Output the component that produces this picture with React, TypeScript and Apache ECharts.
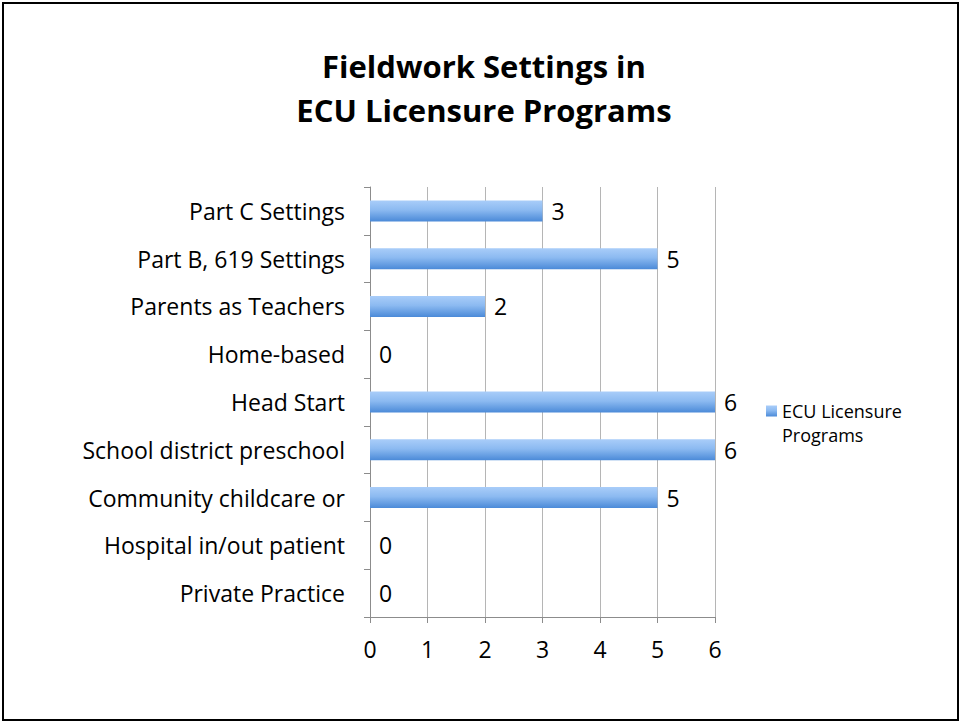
import React, { useEffect, useRef } from "react";
import * as echarts from "echarts";

const categories = [
  "Part C Settings",
  "Part B, 619 Settings",
  "Parents as Teachers",
  "Home-based",
  "Head Start",
  "School district preschool",
  "Community childcare or",
  "Hospital in/out patient",
  "Private Practice",
];
const values = [3, 5, 2, 0, 6, 6, 5, 0, 0];
const xTicks = [0, 1, 2, 3, 4, 5, 6];
const seriesName = "ECU Licensure Programs";
const legendLines = ["ECU Licensure", "Programs"];
const titleLines = ["Fieldwork Settings in", "ECU Licensure Programs"];

const FONT = "'Open Sans', sans-serif";

export default function App() {
  const ref = useRef<HTMLDivElement>(null);
  useEffect(() => {
    if (!ref.current) return;
    const chart = echarts.init(ref.current, undefined, { renderer: "svg" });
    const barColor = new echarts.graphic.LinearGradient(0, 0, 0, 1, [
      { offset: 0, color: "#a9cdf9" },
      { offset: 0.45, color: "#8cbaf1" },
      { offset: 1, color: "#4b8ad8" },
    ]);
    chart.setOption({
      animation: false,
      backgroundColor: "#ffffff",
      textStyle: { fontFamily: FONT },
      title: {
        text: titleLines.join("\n"),
        left: 484,
        top: 44,
        padding: 0,
        textAlign: "center",
        textStyle: {
          fontFamily: FONT,
          fontWeight: "bold",
          fontSize: 31,
          lineHeight: 44,
          color: "#000",
        },
      },
      graphic: [
        {
          type: "rect",
          shape: { x: 3, y: 3, width: 955, height: 717 },
          style: { fill: "none", stroke: "#000", lineWidth: 2 },
          silent: true,
        },
      ],
      legend: {
        left: 766,
        top: 375,
        padding: 0,
        orient: "vertical",
        itemWidth: 11,
        itemHeight: 11,
        icon: "rect",
        formatter: () => "\n" + legendLines.join("\n"),
        textStyle: {
          fontFamily: FONT,
          fontSize: 18,
          lineHeight: 24,
          color: "#000",
        },
        data: [seriesName],
      },
      grid: { left: 370, right: 246, top: 187, bottom: 106, containLabel: false },
      xAxis: {
        type: "value",
        min: 0,
        max: 6,
        interval: 1,
        axisLine: { show: true, lineStyle: { color: "#8c8c8c", width: 1 } },
        axisTick: { show: true, length: 6, lineStyle: { color: "#8c8c8c" } },
        splitLine: { show: true, lineStyle: { color: "#b5b5b5", width: 1 } },
        axisLabel: {
          margin: 20,
          fontFamily: FONT,
          fontSize: 23,
          color: "#000",
          formatter: (v: number) => (xTicks.includes(v) ? String(v) : ""),
        },
      },
      yAxis: {
        type: "category",
        data: categories,
        inverse: true,
        axisLine: { show: true, lineStyle: { color: "#8c8c8c", width: 1 } },
        axisTick: { show: true, length: 6, alignWithLabel: false, lineStyle: { color: "#8c8c8c" } },
        splitLine: { show: false },
        axisLabel: {
          margin: 25,
          fontFamily: FONT,
          fontSize: 23,
          color: "#000",
        },
      },
      series: [
        {
          name: seriesName,
          type: "bar",
          data: values,
          barWidth: 21,
          itemStyle: { color: barColor },
          label: {
            show: true,
            position: "right",
            distance: 9,
            fontFamily: FONT,
            fontSize: 23,
            color: "#000",
          },
        },
      ],
    });
    return () => chart.dispose();
  }, []);
  return (
    <div
      ref={ref}
      style={{ position: "fixed", left: 0, top: 0, width: 961, height: 723 }}
    />
  );
}
